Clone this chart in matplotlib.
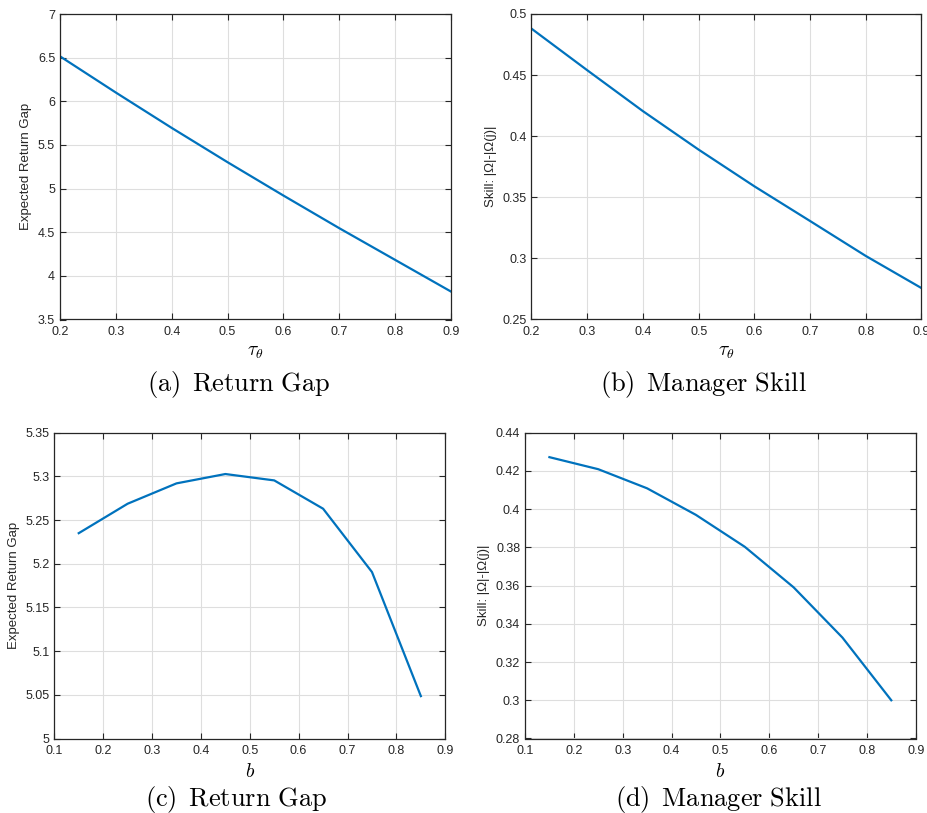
import numpy as np
import matplotlib
matplotlib.use("Agg")
import matplotlib.pyplot as plt
from matplotlib.ticker import FormatStrFormatter, MultipleLocator

# data
tau = [0.2, 0.3, 0.4, 0.5, 0.6, 0.7, 0.8, 0.9]
gap_tau = [6.515, 6.10, 5.695, 5.302, 4.92, 4.546, 4.183, 3.82]
skill_tau = [0.488, 0.454, 0.4205, 0.389, 0.359, 0.3306, 0.302, 0.2757]

b_vals = [0.15, 0.25, 0.35, 0.45, 0.55, 0.65, 0.75, 0.85]
gap_b = [5.235, 5.2687, 5.292, 5.3027, 5.2954, 5.263, 5.1905, 5.0485]
skill_b = [0.4272, 0.4209, 0.4109, 0.397, 0.3803, 0.3591, 0.3328, 0.300]

plt.rcParams['font.family'] = ['Liberation Sans', 'DejaVu Sans']
plt.rcParams['mathtext.fontset'] = 'cm'

W, H = 928, 813
fig = plt.figure(figsize=(W / 100, H / 100), dpi=100)

blue = '#0072BD'
dark = '#262626'


# kotak axes gaya matlab
def make_axes(rect, x, y, xlim, ylim, ystep, ylabel, xlabel):
    ax = fig.add_axes(rect)
    ax.plot(x, y, color=blue, lw=1.6)
    ax.set_xlim(*xlim)
    ax.set_ylim(*ylim)
    ax.xaxis.set_major_locator(MultipleLocator(0.1))
    ax.yaxis.set_major_locator(MultipleLocator(ystep))
    ax.xaxis.set_major_formatter(FormatStrFormatter('%g'))
    ax.yaxis.set_major_formatter(FormatStrFormatter('%g'))
    ax.grid(True, color='#dedede', lw=0.8)
    ax.set_axisbelow(True)
    ax.tick_params(direction='in', length=4, width=0.8, colors=dark,
                   labelsize=9, top=True, right=True)
    ax.tick_params(axis='x', pad=5)
    ax.tick_params(axis='y', pad=3.5)
    for s in ax.spines.values():
        s.set_color(dark)
        s.set_linewidth(0.9)
    ax.set_ylabel(ylabel, fontsize=9.5, color=dark, labelpad=4)
    ax.set_xlabel(xlabel, fontsize=14, color='black', labelpad=4)
    return ax


def frac(l, t, r, b):
    return [l / W, 1 - b / H, (r - l) / W, (b - t) / H]


make_axes(frac(60, 14, 451, 319.5), tau, gap_tau, (0.2, 0.9), (3.5, 7), 0.5,
          'Expected Return Gap', r'$\tau_\theta$')
make_axes(frac(531.5, 14, 921.5, 319.5), tau, skill_tau, (0.2, 0.9), (0.25, 0.5), 0.05,
          'Skill: |Ω|-|Ω(j)|', r'$\tau_\theta$')
make_axes(frac(54.3, 432.7, 445.3, 738.5), b_vals, gap_b, (0.1, 0.9), (5.0, 5.35), 0.05,
          'Expected Return Gap', r'$b$')
make_axes(frac(525, 432.7, 915.7, 738.5), b_vals, skill_b, (0.1, 0.9), (0.28, 0.44), 0.02,
          'Skill: |Ω|-|Ω(j)|', r'$b$')

captions = [(239, 384, '(a)', 'Return\ Gap'),
            (703, 384, '(b)', 'Manager\ Skill'),
            (236, 799, '(c)', 'Return\ Gap'),
            (718, 799, '(d)', 'Manager\ Skill')]
for cx, cy, tag, txt in captions:
    fig.text(cx / W, 1 - cy / H, r'$\mathrm{' + tag + r'\enspace ' + txt + '}$',
             ha='center', va='center', fontsize=19)

fig.savefig('out.png', dpi=100)
